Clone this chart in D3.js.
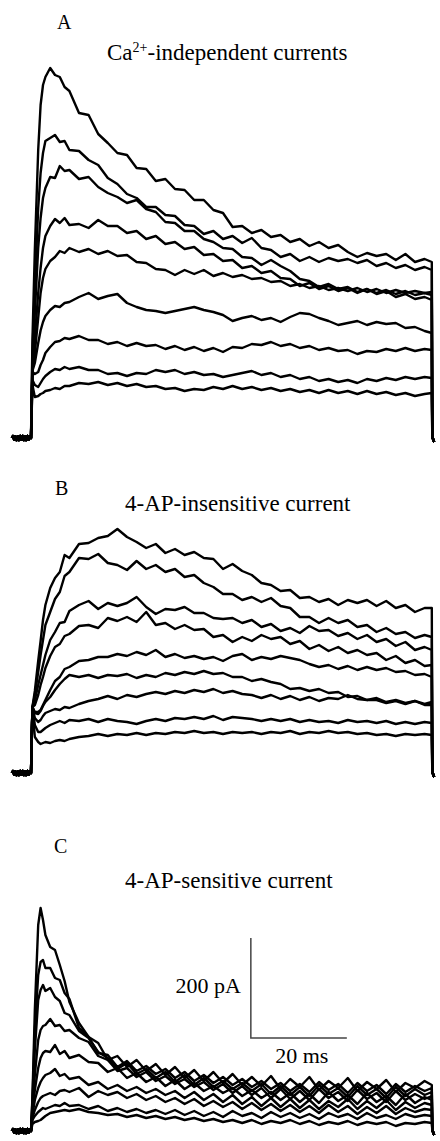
<!DOCTYPE html>
<html><head><meta charset="utf-8">
<script src="https://cdn.jsdelivr.net/npm/d3@7"></script>
<style>
html,body{margin:0;padding:0;background:#fff;}
svg{display:block;}
text{font-family:"Liberation Serif","Times New Roman",serif;fill:#000;}
</style></head><body>
<svg id="chart" width="440" height="1141"></svg>
<script>
// ---- data (time in ms, current in pA) ----
const timeMs = [0,0.3,0.8,1.5,2,2.5,3,4,5,6,7,8,10,12,14,16,18,20,22,24,26,28,30,32,34,36,38,40,42,44,46,48,50,52,54,56,58,60,62,64,66,68,70,72,74,76,78,80,82,83.5];
const holdMs = [-4,-3.75,-3.5,-3.25,-3,-2.75,-2.5,-2.25,-2,-1.75,-1.5,-1.25,-1,-0.75,-0.5,-0.25,0];
const holdPA = [0,4,-3,3,-4,3,-4,4,-3,4,-4,3,-4,4,-3,3,0];
const tailMs = [83.6,84.0];
const tailPA = [2,-8];

const panelLabels = ["A","B","C"];
const panelTitles = ["Ca|2+|-independent currents","4-AP-insensitive current","4-AP-sensitive current"];

const tracesA = [
 [0,196,376,576,666,706,722,740,726,722,702,694,650,646,608,590,570,566,540,538,514,518,498,496,476,476,456,450,422,424,410,416,402,406,392,398,384,392,380,386,372,362,370,364,368,356,368,352,358,352],
 [0,170,300,460,530,570,594,600,606,592,594,576,574,556,546,520,508,488,480,462,462,446,444,426,424,408,414,398,404,390,400,380,376,362,368,354,362,352,360,354,358,350,356,344,350,340,346,336,342,336],
 [0,150,250,380,440,480,500,522,520,544,534,536,518,522,502,490,482,470,476,458,452,432,430,414,414,398,392,380,378,362,360,346,356,344,334,318,314,302,308,298,302,292,298,288,294,282,288,278,282,276],
 [0,140,200,290,340,380,404,424,438,430,440,426,428,420,436,424,424,410,414,398,404,388,392,378,382,366,368,354,356,340,344,330,334,320,318,304,310,298,304,294,300,290,298,290,296,288,294,286,290,286],
 [0,136,170,240,290,320,338,354,362,374,370,380,372,378,368,374,364,366,352,350,338,336,326,336,328,336,324,330,322,326,318,320,312,314,304,308,300,304,296,300,294,300,292,298,290,296,290,294,290,292],
 [0,134,150,190,215,232,244,256,264,262,270,272,282,290,278,284,288,270,262,256,254,250,254,258,262,256,252,246,234,240,244,236,240,232,242,250,248,240,234,226,230,234,226,232,228,230,220,222,214,210],
 [0,132,128,132,146,156,170,182,192,194,200,198,204,196,196,188,192,184,190,184,186,178,184,176,182,174,180,172,182,180,188,186,192,184,188,180,184,176,180,174,176,168,174,172,178,174,180,174,178,176],
 [0,116,106,102,110,118,124,132,138,136,142,138,142,136,136,128,130,124,130,128,136,132,136,128,132,126,128,122,126,130,134,126,130,122,126,118,122,114,118,112,116,110,118,114,120,116,122,118,122,120],
 [0,106,82,84,88,90,94,96,100,98,104,104,110,108,112,106,110,104,108,102,104,98,100,94,98,96,102,98,104,98,102,96,100,94,98,92,96,90,96,90,94,88,94,88,92,86,90,84,88,90]
];

const tracesB = [
 [0,132,164,224,264,306,336,370,390,402,436,430,458,460,470,474,488,472,462,450,458,440,448,436,442,430,428,408,418,404,396,380,376,364,366,350,352,342,348,336,346,340,346,334,344,330,336,322,330,330],
 [0,132,156,202,236,266,296,322,348,362,394,402,430,428,438,420,416,406,424,408,416,402,408,392,396,380,372,358,358,346,352,342,350,334,330,312,312,300,310,300,306,292,296,282,290,278,282,270,276,272],
 [0,132,146,176,196,216,236,266,282,300,302,324,336,344,328,340,334,340,352,332,318,328,326,332,320,320,310,308,310,300,306,292,298,284,290,280,294,284,286,274,280,268,276,262,268,254,262,246,252,246],
 [0,132,136,156,176,192,210,234,252,258,274,278,294,296,290,310,304,312,302,322,296,300,288,296,286,288,272,276,262,272,264,276,268,272,258,264,248,256,244,252,240,246,236,240,226,234,220,226,214,216],
 [0,132,122,122,126,136,146,166,184,192,208,212,224,226,232,232,238,234,242,236,246,232,238,230,234,228,232,224,234,238,226,232,228,234,230,226,218,212,216,208,214,206,212,206,210,202,204,196,198,192],
 [0,132,120,118,124,134,142,152,166,178,188,196,192,196,190,196,194,198,190,196,192,200,196,202,198,204,198,200,192,192,184,188,182,178,168,170,164,168,160,162,152,154,146,146,140,144,138,144,138,142],
 [0,132,110,102,106,114,120,124,128,126,132,130,138,144,148,154,148,156,152,158,162,158,164,160,166,162,168,160,164,158,156,150,156,148,154,146,152,144,150,148,156,148,146,150,142,146,140,144,136,136],
 [0,132,96,82,82,86,90,96,100,104,100,106,104,108,102,108,104,102,98,104,108,104,110,108,112,108,114,106,112,110,108,104,108,104,108,102,106,102,104,100,106,102,104,100,104,98,102,98,102,100],
 [0,132,72,62,58,60,62,60,64,66,64,68,72,74,78,74,78,76,80,76,80,78,82,80,84,80,82,78,82,80,82,78,82,80,84,78,82,80,84,80,82,78,80,76,78,74,78,76,78,76]
];

const tracesC = [
 [0,68,242,412,446,422,392,368,362,332,300,258,216,188,176,142,150,128,142,120,134,112,128,106,122,100,118,96,114,92,108,90,110,84,104,88,108,82,100,86,106,80,98,84,102,78,96,86,100,92],
 [0,62,202,312,338,342,326,326,306,302,276,264,206,188,156,152,128,140,120,130,114,124,106,118,100,112,96,108,92,104,88,100,84,96,80,94,78,98,82,94,76,96,80,92,74,94,78,90,80,86],
 [0,52,162,262,282,292,280,286,268,260,236,232,200,186,158,146,124,136,114,124,106,118,98,112,92,106,88,100,84,96,80,94,74,90,72,88,70,92,74,86,68,90,72,84,66,88,70,84,72,78],
 [0,42,112,182,202,210,212,224,210,212,200,202,186,178,150,142,120,126,108,118,100,110,94,104,88,98,82,94,76,90,72,86,66,84,64,80,62,84,66,78,60,82,64,76,58,80,62,74,64,70],
 [0,38,82,126,146,156,160,158,172,154,160,146,152,138,136,118,126,106,116,98,108,90,102,84,96,80,90,76,86,70,82,66,78,62,76,58,74,56,78,60,72,54,76,58,70,52,74,56,68,62],
 [0,32,62,86,98,106,112,116,124,110,114,104,108,92,98,84,92,80,88,76,84,72,80,66,78,62,74,58,72,54,68,50,66,48,64,46,62,44,60,48,64,44,60,46,62,42,58,46,56,52],
 [0,26,42,58,66,70,72,76,72,80,82,78,86,68,80,72,78,66,74,62,70,58,66,54,64,50,60,48,58,44,56,42,54,40,52,38,50,36,52,38,50,34,48,36,50,34,46,38,44,42],
 [0,22,30,38,42,46,44,48,52,50,56,50,52,44,50,40,46,38,44,36,42,34,42,32,40,30,38,28,40,30,36,26,38,28,36,26,34,24,36,28,34,24,36,26,32,24,34,28,32,30],
 [0,14,18,20,22,26,30,36,38,40,42,40,44,38,36,32,34,28,32,26,30,24,28,22,26,20,24,18,22,16,22,14,20,16,22,14,20,12,18,14,20,12,18,14,18,10,16,14,18,16]
];

// scale bar (in panel C units)
const scaleBarMs = 20;
const scaleBarPA = 200;
const scaleBarAnchor = [45.8, 186]; // ms, pA of the corner
const scaleBarLabels = ["200 pA", "20 ms"];

// ---- layout ----
const svg = d3.select("#chart");
const x = d3.scaleLinear().domain([0, 20]).range([31, 127]); // 4.8 px per ms
const layout = [
  {base: 438, labelPos: [57, 29], titlePos: [107, 60]},
  {base: 773, labelPos: [55, 495], titlePos: [125, 511]},
  {base: 1131, labelPos: [54, 853], titlePos: [125, 888]}
];
const allTraces = [tracesA, tracesB, tracesC];

layout.forEach((L, i) => {
  const y = d3.scaleLinear().domain([0, 200]).range([L.base, L.base - 100]);
  const line = d3.line().x(d => x(d[0])).y(d => y(d[1]));
  const g = svg.append("g");
  allTraces[i].forEach(tr => {
    const pts = holdMs.map((t, k) => [t, holdPA[k]])
      .concat(timeMs.map((t, k) => [t, tr[k]]).slice(1))
      .concat(tailMs.map((t, k) => [t, tailPA[k]]));
    g.append("path").attr("d", line(pts))
      .attr("fill", "none").attr("stroke", "#000")
      .attr("stroke-width", 2.4).attr("stroke-linejoin", "round");
  });
  svg.append("text").attr("x", L.labelPos[0]).attr("y", L.labelPos[1])
    .attr("font-size", 20).text(panelLabels[i]);
  const parts = panelTitles[i].split("|");
  const t = svg.append("text").attr("x", L.titlePos[0]).attr("y", L.titlePos[1])
    .attr("font-size", 23);
  if (parts.length === 3) {
    t.append("tspan").text(parts[0]);
    t.append("tspan").attr("font-size", 14).attr("dy", -8).text(parts[1]);
    t.append("tspan").attr("dy", 8).text(parts[2]);
  } else {
    t.text(parts[0]);
  }
  if (i === 2) {
    const x0 = x(scaleBarAnchor[0]), y0 = y(scaleBarAnchor[1]);
    const x1 = x(scaleBarAnchor[0] + scaleBarMs), y1 = y(scaleBarAnchor[1] + scaleBarPA);
    svg.append("path").attr("d", `M${x0},${y1}V${y0}H${x1}`)
      .attr("fill", "none").attr("stroke", "#444").attr("stroke-width", 1.5);
    svg.append("text").attr("x", x0 - 10).attr("y", (y0 + y1) / 2 + 5)
      .attr("text-anchor", "end").attr("font-size", 22).text(scaleBarLabels[0]);
    svg.append("text").attr("x", (x0 + x1) / 2 + 3).attr("y", y0 + 25)
      .attr("text-anchor", "middle").attr("font-size", 22).text(scaleBarLabels[1]);
  }
});
</script>
</body></html>
